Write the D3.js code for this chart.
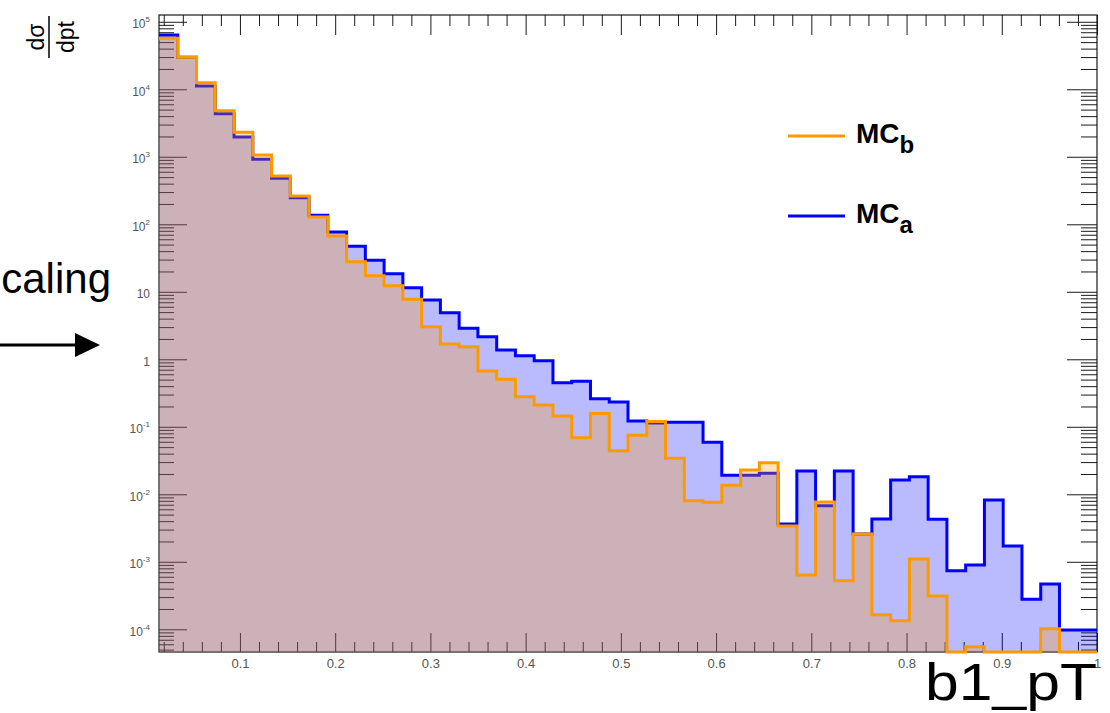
<!DOCTYPE html>
<html>
<head>
<meta charset="utf-8">
<script src="https://cdn.jsdelivr.net/npm/d3@7"></script>
<style>
  body { margin: 0; background: #fff; }
  svg { display: block; }
  text { font-family: "Liberation Sans", Arial, Helvetica, sans-serif; }
</style>
</head>
<body>
<svg id="chart" width="1110" height="713"></svg>
<script>
// Histogram binning of b1_pT: 50 equal bins between 0.015 and 1.0
const binLow = 0.015;
const binWidth = 0.0197;
const nBins = 50;
const binEdges = d3.range(nBins + 1).map(i => binLow + i * binWidth);

// dσ/dpt per bin, sample "MC_a" (blue)
const mcA = [
  63700, 29800, 11200, 4350, 1960, 918, 480, 248, 136, 76.9,
  47.2, 29.3, 18.5, 11.5, 7.56, 4.90, 2.88, 2.16, 1.37, 1.13,
  0.953, 0.450, 0.472, 0.261, 0.233, 0.122, 0.114, 0.117, 0.117, 0.0589,
  0.0191, 0.0191, 0.0205, 0.00363, 0.0221, 0.00678, 0.0221, 0.00258, 0.00431, 0.0163,
  0.0182, 0.00426, 0.000738, 0.000897, 0.00824, 0.00171, 0.000278, 0.000469, 0.0000977, 0.0000977
];

// dσ/dpt per bin, sample "MC_b" (orange); empty bins are 0
const mcB = [
  57000, 29800, 12500, 4820, 2310, 1060, 520, 262, 128, 67.1,
  27.9, 17.3, 12.3, 7.74, 3.04, 1.69, 1.54, 0.671, 0.506, 0.279,
  0.210, 0.145, 0.0690, 0.158, 0.0443, 0.0748, 0.120, 0.0341, 0.00804, 0.00760,
  0.0136, 0.0229, 0.0294, 0.00339, 0.000637, 0.00769, 0.000525, 0.00258, 0.000164, 0.000134,
  0.00110, 0.000311, 0, 0.000055, 0, 0, 0, 0.000102, 0, 0
];

// Axis ranges and tick values
const xDomain = [0.015, 1.0];
const yDomain = [4.61e-5, 1.26e5];
const xMajorTicks = [0.1, 0.2, 0.3, 0.4, 0.5, 0.6, 0.7, 0.8, 0.9, 1.0];
const xTickLabels = ["0.1", "0.2", "0.3", "0.4", "0.5", "0.6", "0.7", "0.8", "0.9", "1"];
const xMinorTicks = d3.range(1, 50).filter(i => i % 5 !== 0).map(i => i / 50);
const yDecadeExps = [-4, -3, -2, -1, 0, 1, 2, 3, 4, 5];
const yMajorTicks = yDecadeExps.map(e => Math.pow(10, e));
const yMinorTicks = d3.range(-5, 6).flatMap(e => d3.range(2, 10).map(m => m * Math.pow(10, e)))
  .filter(v => v > yDomain[0] && v < yDomain[1]);

const series = [
  { name: "MC_a", values: mcA, line: "#0000ff", fill: "rgba(0,0,255,0.27)" },
  { name: "MC_b", values: mcB, line: "#ff9900", fill: "rgba(255,153,0,0.28)" }
];

// Frame of the pad
const frame = { left: 159, right: 1097, top: 15, bottom: 652 };

const svg = d3.select("#chart");
const x = d3.scaleLinear().domain(xDomain).range([frame.left, frame.right]);
const y = d3.scaleLog().domain(yDomain).range([frame.bottom, frame.top]);
const yv = v => y(Math.max(v, yDomain[0]));

// ---- axes on all four sides, ticks pointing inward ----
const axisColor = "#1a1a1a";
function styleAxis(g) {
  g.select(".domain").remove();
  g.selectAll(".tick line").attr("stroke", axisColor).attr("stroke-width", 1);
}

svg.append("g").attr("transform", `translate(0,${frame.bottom})`)
  .call(d3.axisBottom(x).tickValues(xMinorTicks).tickSize(-10).tickFormat(""))
  .call(styleAxis);
const gxb = svg.append("g").attr("transform", `translate(0,${frame.bottom})`)
  .call(d3.axisBottom(x).tickValues(xMajorTicks).tickSize(-19).tickPadding(7)
    .tickFormat((d, i) => xTickLabels[i]))
  .call(styleAxis);
gxb.selectAll(".tick text").attr("fill", "#555").attr("font-size", 13)
  .attr("font-family", "Liberation Sans, Arial, sans-serif");

svg.append("g").attr("transform", `translate(0,${frame.top})`)
  .call(d3.axisTop(x).tickValues(xMinorTicks).tickSize(-11).tickFormat(""))
  .call(styleAxis);
svg.append("g").attr("transform", `translate(0,${frame.top})`)
  .call(d3.axisTop(x).tickValues(xMajorTicks).tickSize(-20).tickFormat(""))
  .call(styleAxis);

svg.append("g").attr("transform", `translate(${frame.left},0)`)
  .call(d3.axisLeft(y).tickValues(yMinorTicks).tickSize(-15).tickFormat(""))
  .call(styleAxis);
const gyl = svg.append("g").attr("transform", `translate(${frame.left},0)`)
  .call(d3.axisLeft(y).tickValues(yMajorTicks).tickSize(-28).tickPadding(9).tickFormat(""))
  .call(styleAxis);
gyl.selectAll(".tick text").each(function (d, i) {
  const e = yDecadeExps[i];
  const t = d3.select(this).attr("fill", "#555").attr("font-size", 12)
    .attr("font-family", "Liberation Sans, Arial, sans-serif").attr("dy", "0.5em");
  if (e === 0) t.text("1");
  else if (e === 1) t.text("10");
  else {
    t.append("tspan").text("10");
    t.append("tspan").attr("dy", "-0.75em").attr("font-size", 8).text(String(e));
  }
});

svg.append("g").attr("transform", `translate(${frame.right},0)`)
  .call(d3.axisRight(y).tickValues(yMinorTicks).tickSize(-16).tickFormat(""))
  .call(styleAxis);
svg.append("g").attr("transform", `translate(${frame.right},0)`)
  .call(d3.axisRight(y).tickValues(yMajorTicks).tickSize(-30).tickFormat(""))
  .call(styleAxis);

svg.append("rect")
  .attr("x", frame.left).attr("y", frame.top)
  .attr("width", frame.right - frame.left).attr("height", frame.bottom - frame.top)
  .attr("fill", "none").attr("stroke", axisColor).attr("stroke-width", 1.2);

// ---- step histograms: translucent fill, then outline ----
function stepPoints(values) {
  const pts = [];
  values.forEach((v, i) => {
    pts.push([binEdges[i], v]);
    pts.push([binEdges[i + 1], v]);
  });
  return pts;
}
const area = d3.area()
  .x(d => x(d[0])).y0(y(yDomain[0])).y1(d => yv(d[1]));
const line = d3.line()
  .x(d => x(d[0])).y(d => yv(d[1]));

const plot = svg.append("g");
series.forEach(s => {
  const pts = stepPoints(s.values);
  plot.append("path").attr("d", area(pts)).attr("fill", s.fill).attr("stroke", "none");
  plot.append("path").attr("d", line(pts)).attr("fill", "none")
    .attr("stroke", s.line).attr("stroke-width", 3).attr("stroke-linejoin", "miter");
});

// ---- legend ----
const legendItems = [
  { label: "MC", sub: "b", color: "#ff9900", y: 136 },
  { label: "MC", sub: "a", color: "#0000ff", y: 216 }
];
const legend = svg.append("g");
legendItems.forEach(it => {
  legend.append("line").attr("x1", 788).attr("x2", 845).attr("y1", it.y).attr("y2", it.y)
    .attr("stroke", it.color).attr("stroke-width", 3);
  const t = legend.append("text").attr("x", 856).attr("y", it.y + 7)
    .attr("font-size", 28).attr("font-weight", "bold").attr("fill", "#000");
  t.append("tspan").text(it.label);
  t.append("tspan").attr("dy", 10).attr("font-size", 24).text(it.sub);
});

// ---- y axis title: dσ / dpt, rotated ----
const yTitle = svg.append("g").attr("transform", "translate(49,37) rotate(-90)");
yTitle.append("text").attr("x", 0).attr("y", -5).attr("text-anchor", "middle")
  .attr("font-size", 23).attr("fill", "#000").text("dσ");
yTitle.append("line").attr("x1", -21).attr("x2", 21).attr("y1", 0).attr("y2", 0)
  .attr("stroke", "#000").attr("stroke-width", 1.5);
yTitle.append("text").attr("x", 0).attr("y", 25).attr("text-anchor", "middle")
  .attr("font-size", 23).attr("fill", "#000").text("dpt");

// ---- x axis title ----
svg.append("text").attr("x", 925).attr("y", 700)
  .attr("font-size", 52).attr("fill", "#000")
  .attr("textLength", 172).attr("lengthAdjust", "spacingAndGlyphs")
  .text("b1_pT");

// ---- annotation at the left: "Scaling" with an arrow ----
svg.append("text").attr("x", 111).attr("y", 293).attr("text-anchor", "end")
  .attr("font-size", 42).attr("fill", "#000").text("Scaling");
svg.append("line").attr("x1", -5).attr("x2", 78).attr("y1", 345).attr("y2", 345)
  .attr("stroke", "#000").attr("stroke-width", 3);
svg.append("path").attr("d", "M75,333 L100,345 L75,357 Z").attr("fill", "#000");
</script>
</body>
</html>
